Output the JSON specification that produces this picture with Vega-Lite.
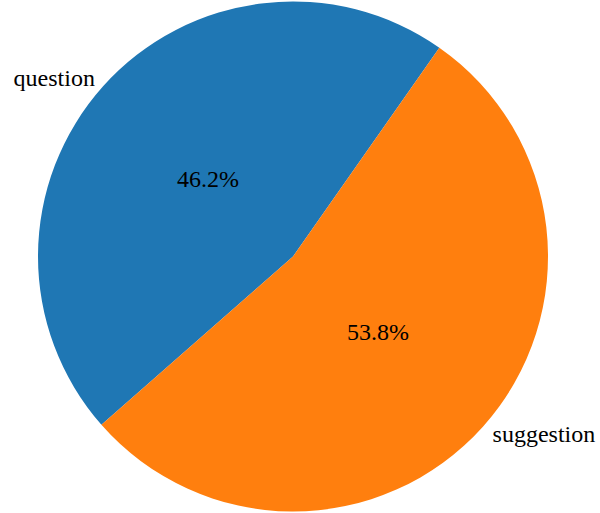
{
  "$schema": "https://vega.github.io/schema/vega-lite/v6.json",
  "width": 586,
  "height": 513,
  "autosize": "none",
  "padding": {"left": 0, "top": 0, "right": 14, "bottom": 0},
  "background": "white",
  "config": {"view": {"stroke": null}},
  "data": {"values": [
    {"label": "question", "value": 0.462},
    {"label": "suggestion", "value": 0.538}
  ]},
  "encoding": {
    "theta": {"field": "value", "type": "quantitative", "stack": true, "scale": {"range": [-2.2916, 3.9916]}},
    "order": {"field": "label", "sort": "ascending"}
  },
  "layer": [
    {
      "mark": {"type": "arc", "outerRadius": 255},
      "encoding": {
        "color": {"field": "label", "type": "nominal", "scale": {"domain": ["question", "suggestion"], "range": ["#1f77b4", "#ff7f0e"]}, "legend": null}
      }
    },
    {
      "mark": {"type": "text", "radius": 114, "font": "'Liberation Serif', 'Times New Roman', Times, serif", "fontSize": 24, "baseline": "middle", "align": "center", "color": "black"},
      "encoding": {"text": {"field": "value", "type": "quantitative", "format": ".1%"}}
    },
    {
      "mark": {"type": "text", "radius": 266, "font": "'Liberation Serif', 'Times New Roman', Times, serif", "fontSize": 24, "baseline": "middle", "align": "right", "color": "black"},
      "encoding": {"text": {"condition": {"test": "datum.label === 'question'", "field": "label"}, "value": ""}}
    },
    {
      "mark": {"type": "text", "radius": 268, "font": "'Liberation Serif', 'Times New Roman', Times, serif", "fontSize": 24, "baseline": "middle", "align": "left", "color": "black"},
      "encoding": {"text": {"condition": {"test": "datum.label === 'suggestion'", "field": "label"}, "value": ""}}
    }
  ]
}
